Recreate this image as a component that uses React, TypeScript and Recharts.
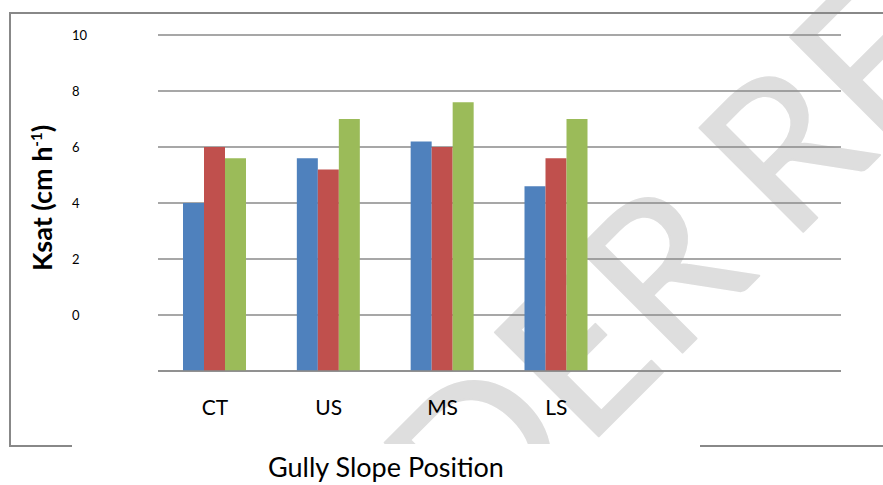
import { BarChart, Bar, XAxis, YAxis, CartesianGrid } from "recharts";

// Gully slope positions (two empty slots on the right, as in the original axis)
const positions = ["CT", "US", "MS", "LS", "", " "];
const seriesBlue = [4.0, 5.6, 6.2, 4.6, null, null];
const seriesRed = [6.0, 5.2, 6.0, 5.6, null, null];
const seriesGreen = [5.6, 7.0, 7.6, 7.0, null, null];
// the lowest grid line carries no label
const yTicks = [-2, 0, 2, 4, 6, 8, 10];

const AXIS_MIN = yTicks[0];
const AXIS_MAX = yTicks[yTicks.length - 1];

const rows = positions.map((pos, i) => ({
  pos,
  blue: seriesBlue[i],
  red: seriesRed[i],
  green: seriesGreen[i],
}));

const FONT = "Lato, 'Open Sans', sans-serif";
const GRID = "#8a8a8a";

// bars rise from the bottom grid line
const fromBase = (key: string) => (d: any) =>
  d[key] == null ? null : [AXIS_MIN, d[key]];

const YTick = (props: any) => {
  const { y, payload } = props;
  if (payload.value <= AXIS_MIN) return <g />;
  return (
    <text x={72} y={y} dy={4.5} fontSize={13} fontFamily={FONT} fill="#000" textAnchor="start">
      {payload.value}
    </text>
  );
};

const XTick = (props: any) => {
  const { x, y, payload } = props;
  return (
    <text x={x} y={y + 36} fontSize={21} fontFamily={FONT} fill="#000" textAnchor="middle">
      {payload.value}
    </text>
  );
};

export default function App() {
  return (
    <div style={{ position: "absolute", left: 0, top: 0, width: 883, height: 485, background: "#fff" }}>
      {/* watermark */}
      <svg width={883} height={485} style={{ position: "absolute", left: 0, top: 0 }}>
        <defs>
          <clipPath id="wm">
            <rect x={0} y={0} width={883} height={444} />
          </clipPath>
        </defs>
        <g clipPath="url(#wm)" fill="#dedede" stroke="#dedede" strokeWidth={2} strokeLinejoin="round" fontFamily={FONT} fontSize={205}>
          <text x={760} y={275} textAnchor="end" transform="rotate(-45 760 275)">UNDER</text>
          <text x={790} y={245} textAnchor="start" transform="rotate(-45 790 245)">REVIEW</text>
        </g>
      </svg>

      <div style={{ position: "absolute", left: 0, top: 0 }}>
        <BarChart
          width={883}
          height={485}
          data={rows}
          margin={{ top: 35, right: 42, bottom: 0, left: 0 }}
          barCategoryGap={25}
          barGap={0}
        >
          <CartesianGrid vertical={false} stroke={GRID} strokeWidth={1.5} />
          <XAxis
            dataKey="pos"
            height={114}
            axisLine={{ stroke: GRID, strokeWidth: 1.5 }}
            tickLine={false}
            tick={<XTick />}
            interval={0}
          />
          <YAxis
            width={158}
            domain={[AXIS_MIN, AXIS_MAX]}
            ticks={yTicks}
            interval={0}
            axisLine={false}
            tickLine={false}
            tick={<YTick />}
          />
          <Bar dataKey={fromBase("blue")} fill="#4f81bd" isAnimationActive={false} />
          <Bar dataKey={fromBase("red")} fill="#c0504d" isAnimationActive={false} />
          <Bar dataKey={fromBase("green")} fill="#9bbb59" isAnimationActive={false} />
        </BarChart>
      </div>

      {/* frame, axis title and y label */}
      <svg width={883} height={485} style={{ position: "absolute", left: 0, top: 0, pointerEvents: "none" }}>
        <g stroke="#888" strokeWidth={2} fill="none">
          <line x1={10} y1={13} x2={883} y2={13} />
          <line x1={10} y1={12} x2={10} y2={447} />
          <line x1={10} y1={446} x2={72} y2={446} />
          <line x1={700} y1={446} x2={883} y2={446} />
        </g>
        <text
          x={0}
          y={0}
          transform="translate(52 198) rotate(-90)"
          textAnchor="middle"
          fontFamily={FONT}
          fontWeight="bold"
          fontSize={27}
          fill="#000"
        >
          Ksat (cm h<tspan fontSize={15} dy={-10}>-1</tspan><tspan dy={10}>)</tspan>
        </text>
        <text x={386} y={477} textAnchor="middle" fontFamily={FONT} fontSize={27} fill="#000">
          Gully Slope Position
        </text>
      </svg>
    </div>
  );
}
